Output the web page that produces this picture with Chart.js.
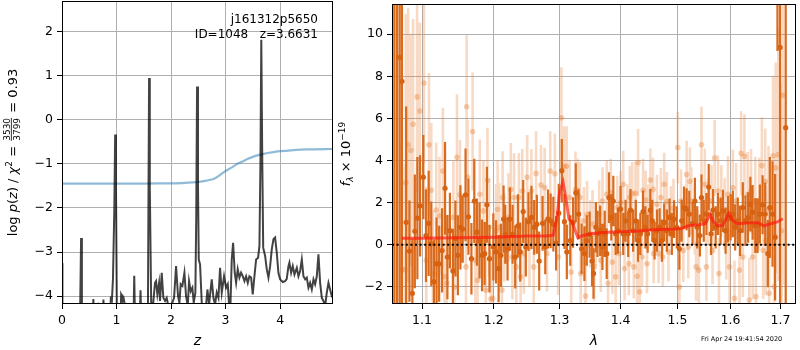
<!DOCTYPE html>
<html><head><meta charset="utf-8">
<script src="https://cdn.jsdelivr.net/npm/chart.js@4/dist/chart.umd.min.js"></script>
<style>
html,body{margin:0;padding:0;background:#fff;width:800px;height:350px;overflow:hidden}
#lw{position:absolute;left:0;top:0;width:334px;height:350px}
#rw{position:absolute;left:334px;top:0;width:466px;height:350px}
</style></head><body>
<div id="lw"><canvas id="left" width="334" height="350"></canvas></div>
<div id="rw"><canvas id="right" width="466" height="350"></canvas></div>
<script>
// ---------- left panel: redshift PDF ----------
const zGrid = [0.000,0.008,0.330,0.350,0.365,0.560,0.575,0.590,0.650,0.665,0.680,0.745,0.760,0.775,0.880,0.895,0.915,0.935,0.960,0.975,0.990,1.005,1.020,1.070,1.085,1.100,1.115,1.130,1.145,1.160,1.310,1.325,1.340,1.425,1.440,1.455,1.575,1.585,1.597,1.610,1.640,1.676,1.706,1.725,1.749,1.780,1.798,1.829,1.859,1.890,1.920,1.951,2.012,2.055,2.092,2.128,2.153,2.177,2.208,2.245,2.275,2.306,2.330,2.361,2.391,2.416,2.446,2.462,2.477,2.494,2.508,2.532,2.563,2.593,2.636,2.667,2.697,2.746,2.777,2.807,2.838,2.869,2.899,2.930,2.972,3.009,3.040,3.064,3.089,3.113,3.138,3.168,3.193,3.223,3.254,3.284,3.315,3.346,3.376,3.407,3.437,3.468,3.498,3.529,3.560,3.596,3.621,3.640,3.655,3.672,3.690,3.725,3.755,3.786,3.817,3.847,3.878,3.908,3.939,3.969,4.000,4.049,4.092,4.122,4.153,4.171,4.202,4.232,4.263,4.306,4.336,4.367,4.398,4.428,4.459,4.489,4.520,4.550,4.581,4.612,4.642,4.673,4.703,4.734,4.765,4.795,4.826,4.856,4.887,4.917,4.948,4.979];
const logPz = [-3.25,-4.6,-4.6,-2.68,-4.6,-4.6,-4.07,-4.6,-4.6,-4.15,-4.6,-4.6,-4.08,-4.6,-4.6,-4.06,-4.10,-3.60,-2.0,-0.33,-1.5,-4.2,-4.6,-4.6,-3.96,-4.0,-4.1,-4.05,-4.15,-4.6,-4.6,-3.54,-4.6,-4.6,-3.87,-4.6,-4.6,-2.0,0.95,-1.5,-4.6,-4.11,-3.70,-3.66,-3.96,-3.70,-4.11,-3.47,-4.04,-4.11,-4.04,-4.23,-4.19,-4.04,-3.32,-4.0,-4.15,-3.73,-3.77,-3.47,-4.0,-4.23,-3.66,-3.89,-3.81,-4.15,-3.92,-2.2,0.76,-1.5,-3.17,-3.28,-4.15,-4.3,-4.3,-3.85,-4.19,-3.62,-4.04,-4.19,-3.92,-4.04,-3.36,-3.92,-3.55,-3.81,-3.73,-4.19,-4.23,-3.17,-2.79,-3.47,-3.70,-3.39,-3.58,-3.47,-3.55,-3.66,-3.55,-3.70,-3.55,-3.58,-3.96,-3.55,-3.17,-3.13,-2.86,-0.9,1.82,-0.8,-2.9,-3.09,-3.39,-3.58,-3.32,-2.94,-2.71,-2.67,-3.02,-3.47,-3.62,-3.68,-3.66,-3.61,-3.32,-3.24,-3.47,-3.32,-3.51,-3.36,-3.55,-3.43,-3.17,-3.55,-3.62,-3.58,-3.81,-3.70,-3.85,-3.62,-3.73,-3.55,-3.05,-3.70,-4.04,-4.11,-4.23,-3.92,-3.70,-3.85,-4.0,-4.06];
const zCum = [0.0,0.5,1.0,1.5,2.0,2.2,2.4,2.6,2.8,2.9,3.0,3.1,3.2,3.3,3.4,3.5,3.6,3.7,3.8,3.9,4.0,4.2,4.5,4.97];
const cumVals = [-1.445,-1.445,-1.445,-1.445,-1.44,-1.435,-1.42,-1.39,-1.33,-1.25,-1.16,-1.09,-1.01,-0.95,-0.89,-0.84,-0.80,-0.77,-0.745,-0.725,-0.71,-0.69,-0.67,-0.66];
const zTicks = [0,1,2,3,4];
const logPTicks = [-4,-3,-2,-1,0,1,2];

// ---------- right panel: spectrum ----------
const darkWave = [1.0636,1.0670,1.0704,1.0735,1.0790,1.0833,1.0872,1.0904,1.0938,1.0974,1.1017,1.1053,1.1089,1.1124,1.1160,1.1196,1.1231,1.1271,1.1312,1.1344,1.1379,1.1420,1.1455,1.1489,1.1525,1.1557,1.1597,1.1638,1.1680,1.1721,1.1758,1.1796,1.1832,1.1869,1.1902,1.1939,1.1995,1.2034,1.2072,1.2106,1.2145,1.2170,1.2204,1.2239,1.2279,1.2318,1.2358,1.2393,1.2438,1.2478,1.2518,1.2564,1.2605,1.2646,1.2682,1.2734,1.2776,1.2818,1.2860,1.2902,1.2945,1.2987,1.3035,1.3077,1.3115,1.3170,1.3214,1.3258,1.3303,1.3353,1.3398,1.3437,1.3483,1.3523,1.3547,1.3586,1.3613,1.3657,1.3695,1.3733,1.3766,1.3804,1.3843,1.3877,1.3916,1.3955,1.4000,1.4045,1.4084,1.4130,1.4169,1.4215,1.4261,1.4301,1.4341,1.4387,1.4428,1.4468,1.4515,1.4550,1.4590,1.4632,1.4679,1.4720,1.4761,1.4809,1.4857,1.4899,1.4940,1.4989,1.5036,1.5078,1.5121,1.5169,1.5218,1.5279,1.5322,1.5365,1.5415,1.5445,1.5488,1.5538,1.5582,1.5626,1.5664,1.5714,1.5758,1.5808,1.5853,1.5904,1.5949,1.6000,1.6045,1.6090,1.6142,1.6187,1.6240,1.6292,1.6344,1.6390,1.6435,1.6488,1.6534,1.6580,1.6635,1.6688,1.6742,1.6782,1.6837,1.6890,1.6938,1.6992,1.7109];
const darkFlux = [13.0,12.0,8.9,7.76,1.07,-0.3,-2.3,0.64,1.27,1.85,3.21,0.44,1.02,0.05,-1.75,-0.9,-0.9,-0.27,2.68,-0.58,0.67,-1.24,0.3,-0.5,0.83,0.75,2.37,1.33,-0.66,2.08,0.6,0.2,-0.5,-0.42,1.9,-0.66,-0.1,-0.34,-1.13,-0.5,1.22,0.5,-0.2,1.22,0.5,-0.58,0.9,-0.34,1.58,-0.1,1.1,1.3,0.83,0.98,-0.77,1.02,-0.1,1.22,1.14,0.98,0.08,1.5,3.52,1.1,-0.34,0.2,1.06,2.47,1.46,-0.19,-0.42,0.2,0.48,-0.77,-1.36,0.83,0.52,0.67,-0.1,0.52,-0.42,2.24,1.3,2.08,0.52,0.67,1.69,0.52,1.14,0.52,1.65,0.67,1.14,0.2,0.52,1.58,0.83,0.52,1.65,1.14,0.2,0.67,0.83,0.2,1.06,0.67,1.3,0.52,1.22,0.83,-0.19,1.14,1.77,1.69,1.46,1.02,2.08,0.83,0.44,2.24,1.14,1.46,2.74,0.52,1.65,0.83,1.46,1.14,1.61,0.67,1.22,1.3,1.46,0.83,1.14,0.67,1.77,1.14,1.3,1.93,1.54,0.91,0.91,1.46,1.9,1.46,-0.42,1.77,1.46,0.36,13.0,9.37,5.56];
const darkErr = [20,20,18,14,5.5,2.4,2.6,2.7,2.9,2.4,2.0,2.2,2.5,2.0,2.0,2.2,1.8,2.0,2.2,2.0,1.8,2.0,1.8,1.9,2.0,1.6,2.2,1.8,1.7,2.0,1.6,1.8,1.7,1.5,1.8,1.6,1.6,1.5,1.6,1.5,1.6,1.4,1.5,1.5,1.4,1.5,1.5,1.4,1.5,1.4,1.4,1.5,1.3,1.4,1.4,1.3,1.3,1.4,1.3,1.3,1.3,1.4,1.5,1.3,1.3,1.2,1.2,1.4,1.2,1.2,1.3,1.2,1.1,1.2,1.2,1.2,1.1,1.2,1.1,1.1,1.2,1.2,1.1,1.2,1.0,1.1,1.1,1.0,1.0,1.1,1.0,1.0,1.0,1.0,1.0,1.0,1.0,0.9,1.0,1.0,0.9,1.0,0.9,1.0,0.9,1.0,0.9,1.0,0.9,1.0,1.0,1.0,1.0,1.0,1.1,1.0,1.1,1.0,1.0,1.1,1.0,1.0,1.1,1.0,1.0,1.0,1.0,1.1,1.0,1.1,1.1,1.1,1.1,1.1,1.1,1.2,1.2,1.2,1.2,1.3,1.3,1.3,1.3,1.4,1.4,1.5,1.6,2.4,2.5,3.0,3.8,16,15,15];

const lightWave = [1.0730,1.0773,1.0786,1.0816,1.0851,1.0881,1.0934,1.0969,1.1026,1.1057,1.1093,1.1124,1.1146,1.1191,1.1236,1.1282,1.1305,1.1336,1.1427,1.1441,1.1477,1.1519,1.1603,1.1612,1.1626,1.1697,1.1734,1.1767,1.1800,1.1852,1.1886,1.1910,1.1933,1.1960,1.1986,1.2034,1.2058,1.2082,1.2121,1.2131,1.2155,1.2218,1.2252,1.2276,1.2301,1.2335,1.2374,1.2399,1.2424,1.2448,1.2498,1.2533,1.2563,1.2598,1.2634,1.2710,1.2766,1.2802,1.2853,1.2926,1.2977,1.3029,1.3070,1.3112,1.3159,1.3185,1.3254,1.3285,1.3327,1.3338,1.3390,1.3416,1.3442,1.3495,1.3531,1.3559,1.3586,1.3641,1.3668,1.3696,1.3767,1.3789,1.3833,1.3861,1.3916,1.3944,1.3972,1.4000,1.4045,1.4068,1.4113,1.4141,1.4158,1.4198,1.4226,1.4255,1.4283,1.4301,1.4329,1.4370,1.4387,1.4433,1.4456,1.4474,1.4515,1.4562,1.4573,1.4632,1.4661,1.4702,1.4737,1.4761,1.4809,1.4838,1.4881,1.4929,1.5007,1.5036,1.5066,1.5108,1.5169,1.5199,1.5230,1.5255,1.5322,1.5344,1.5370,1.5395,1.5445,1.5508,1.5538,1.5570,1.5635,1.5654,1.5694,1.5758,1.5777,1.5822,1.5886,1.5917,1.5949,1.5981,1.6045,1.6077,1.6110,1.6175,1.6207,1.6240,1.6272,1.6338,1.6370,1.6403,1.6436,1.6488,1.6501,1.6567,1.6621,1.6647,1.6688,1.6701,1.6755,1.6768,1.6849,1.6869,1.6903,1.6957,1.7023,1.7051];
const lightFlux = [-1.18,-1.18,2.95,4.75,4.48,5.72,7.02,6.35,7.68,-0.74,4.75,2.59,-1.36,1.65,1.38,3.5,-1.52,-1.83,1.3,-2.0,4.15,2.37,-1.05,6.55,3.21,5.38,-0.74,-1.68,2.4,1.61,-2.15,3.06,0.83,-2.57,-2.54,0.67,1.69,0.83,-2.15,2.24,0.36,1.3,2.63,-0.58,2.24,-1.05,2.24,-1.52,2.55,-0.42,3.21,-0.1,2.55,-1.05,3.39,2.84,2.71,-0.42,3.5,3.37,-0.58,6.03,3.73,3.73,2.24,-1.29,2.63,2.4,2.24,-1.36,1.14,-2.43,1.43,0.52,0.99,-1.05,0.52,1.46,-0.74,2.08,2.4,-1.83,2.48,-0.82,-1.52,1.77,-0.42,2.0,2.87,-1.13,1.38,-0.9,2.24,2.43,-1.05,2.45,-1.49,3.9,-2.23,-0.58,2.59,2.12,-0.9,1.46,3.07,2.63,-0.42,1.93,-0.42,2.24,-0.58,2.87,2.05,-0.34,1.38,1.74,4.62,-2.0,2.08,-0.27,3.34,-0.1,3.02,2.08,1.14,-1.05,0.05,-1.2,4.75,2.87,-1.05,1.54,2.08,-0.27,4.12,2.55,-1.36,2.08,1.46,0.05,2.4,-1.05,2.71,-2.54,2.08,-1.2,4.34,-0.58,4.2,2.4,-2.62,2.55,-0.58,2.08,-2.46,1.93,3.76,-0.27,3.02,0.2,1.69,-2.3,4.23,-1.99,3.65,4.28,0.67,7.1];
const lightErr = [6.0,5.0,8.0,6.5,5.5,5.0,4.5,4.2,3.8,3.5,3.4,3.2,3.0,3.2,2.8,3.0,2.9,2.8,2.7,2.6,3.0,2.6,2.6,3.4,2.7,2.8,2.5,2.5,2.6,2.4,2.4,2.5,2.3,2.3,2.3,2.2,2.3,2.1,2.2,2.2,2.1,2.1,2.2,2.0,2.1,2.0,2.1,2.0,2.0,1.9,2.0,1.9,2.0,1.9,2.0,1.9,1.9,1.8,1.9,1.9,1.8,2.4,1.9,1.9,1.8,1.7,1.8,1.7,1.7,1.7,1.6,1.6,1.6,1.6,1.6,1.6,1.5,1.6,1.5,1.6,1.6,1.5,1.6,1.5,1.5,1.5,1.5,1.5,1.6,1.5,1.5,1.5,1.5,1.5,1.5,1.5,1.5,1.6,1.5,1.4,1.5,1.4,1.4,1.4,1.5,1.5,1.4,1.4,1.4,1.4,1.4,1.5,1.4,1.4,1.4,1.4,1.7,1.5,1.5,1.5,1.6,1.5,1.6,1.6,1.6,1.6,1.6,1.6,1.8,1.7,1.6,1.6,1.7,1.6,1.8,1.7,1.7,1.7,1.7,1.7,1.8,1.8,1.8,1.8,1.8,1.8,2.0,1.9,2.0,2.0,2.0,2.0,2.0,2.1,2.1,2.2,2.3,2.3,2.5,2.6,3.0,3.0,3.8,4.0,5.0,6.0,7.0,9.0];

const modelWave = [1.073,1.10,1.15,1.20,1.25,1.28,1.290,1.296,1.300,1.3055,1.310,1.315,1.3197,1.3293,1.335,1.35,1.37,1.40,1.43,1.45,1.48,1.50,1.51,1.52,1.54,1.552,1.5607,1.567,1.575,1.585,1.5966,1.603,1.612,1.625,1.64,1.655,1.6655,1.68,1.695,1.7046];
const modelFlux = [0.31,0.31,0.33,0.36,0.42,0.42,0.45,1.3,2.5,2.98,2.2,1.2,1.1,0.33,0.42,0.52,0.58,0.62,0.66,0.70,0.74,0.75,0.8,0.9,0.95,1.0,1.43,1.1,0.9,0.92,1.5,1.2,1.0,1.02,1.05,1.05,0.9,1.0,1.1,1.25];
const waveTicks = [1.1,1.2,1.3,1.4,1.5,1.6,1.7];
const fluxTicks = [-2,0,2,4,6,8,10];

// ---------- helpers ----------
const FAM = "'DejaVu Sans', sans-serif";
const minus = v => String(v).replace('-', '\u2212');
function pts(xs, ys){ return xs.map((x,i)=>({x:x, y:ys[i]})); }
function errSegments(xs, ys, es){
  const out = [];
  xs.forEach((x,i)=>{ out.push({x:x,y:ys[i]-es[i]}); out.push({x:x,y:ys[i]+es[i]}); out.push({x:x,y:null}); });
  return out;
}
function richRotated(ctx, cx, cy, pieces){
  ctx.save();
  ctx.translate(cx, cy); ctx.rotate(-Math.PI/2);
  ctx.fillStyle = '#000'; ctx.textBaseline = 'alphabetic';
  let total = 0;
  pieces.forEach(p=>{
    if (p.frac){ ctx.font = p.font; p.w = Math.max(ctx.measureText(p.frac[0]).width, ctx.measureText(p.frac[1]).width)+2; }
    else { ctx.font = p.font; p.w = ctx.measureText(p.t).width; }
    total += p.w;
  });
  let x = -total/2;
  const base = 4.5;
  pieces.forEach(p=>{
    ctx.font = p.font;
    if (p.frac){
      ctx.textAlign = 'center';
      ctx.fillText(p.frac[0], x+p.w/2, base-7);
      ctx.fillText(p.frac[1], x+p.w/2, base+3.5);
      ctx.fillRect(x+1, base-5.6, p.w-2, 0.8);
      ctx.textAlign = 'left';
    } else {
      ctx.textAlign = 'left';
      ctx.fillText(p.t, x, base + (p.dy||0));
    }
    x += p.w;
  });
  ctx.restore();
}
function frame(chart){
  const a = chart.chartArea, c = chart.ctx;
  c.save(); c.strokeStyle = '#000'; c.lineWidth = 1;
  c.strokeRect(Math.round(a.left)+0.5, Math.round(a.top)+0.5, Math.round(a.right-a.left)-1, Math.round(a.bottom-a.top)-1);
  c.restore();
}
function setTicks(vals){ return s => { s.ticks = vals.map(v=>({value:v})); }; }
function fixY(w){ return s => { s.width = w; s.paddingTop = 0; s.paddingBottom = 0; }; }
function fixX(h){ return s => { s.height = h; s.paddingLeft = 0; s.paddingRight = 0; }; }

const tickFont = {family: FAM, size: 12.5};
const gridOpts = {color:'#b0b0b0', lineWidth:1, tickColor:'#000', tickLength:5, tickWidth:1};

// ---------- left chart ----------
new Chart(document.getElementById('left'), {
  type: 'line',
  data: { datasets: [
    { data: pts(zGrid, logPz), borderColor: 'rgba(0,0,0,0.74)', borderWidth: 2, pointRadius: 0, tension: 0, order: 0 },
    { data: pts(zCum, cumVals), borderColor: 'rgba(31,119,180,0.5)', borderWidth: 2.2, pointRadius: 0, tension: 0.3, order: 1 }
  ]},
  options: {
    responsive: false, animation: false, devicePixelRatio: 1,
    layout: { padding: {top: 1, right: 1, left: 0, bottom: 0} },
    plugins: { legend: {display:false}, tooltip: {enabled:false} },
    scales: {
      x: { type: 'linear', min: 0, max: 4.97, afterBuildTicks: setTicks(zTicks), afterFit: fixX(46),
           grid: gridOpts, border: {display:false},
           ticks: { font: tickFont, color: '#000', padding: 4, maxRotation: 0, callback: v => minus(v) },
           title: { display: true, text: 'z', color: '#000', font: {family: FAM, size: 14, style: 'italic'}, padding: {top:0, bottom:0} } },
      y: { type: 'linear', min: -4.18, max: 2.70, afterBuildTicks: setTicks(logPTicks), afterFit: fixY(62),
           grid: gridOpts, border: {display:false},
           ticks: { font: tickFont, color: '#000', padding: 4, callback: v => minus(v) } }
    }
  },
  plugins: [{ id: 'leftDeco', afterDraw(chart){
    frame(chart);
    const c = chart.ctx, a = chart.chartArea;
    c.save(); c.fillStyle = '#000'; c.font = '12px ' + FAM; c.textAlign = 'right'; c.textBaseline = 'middle';
    c.fillText('j161312p5650', a.right - 15, 20);
    c.fillText('ID=1048   z=3.6631', a.right - 15, 35);
    c.restore();
    const f = '13px ' + FAM, fi = 'italic 13px ' + FAM, fs = '9px ' + FAM;
    richRotated(c, 12, (a.top + a.bottom)/2, [
      {t:'log ', font:f}, {t:'p', font:fi}, {t:'(', font:f}, {t:'z', font:fi}, {t:') / ', font:f},
      {t:'\u03C7', font:fi}, {t:'2', font:fs, dy:-5}, {t:' = ', font:f}, {frac:['3530','3799'], font:fs}, {t:' = 0.93', font:f}
    ]);
  }}]
});

// ---------- right chart ----------
new Chart(document.getElementById('right'), {
  type: 'line',
  data: { datasets: [
    { data: [{x:1.0606,y:0},{x:1.7324,y:0}], borderColor: '#000', borderWidth: 2, borderDash: [2,2.6], pointRadius: 0, order: 0 },
    { data: pts(modelWave, modelFlux), borderColor: 'rgba(255,20,10,0.65)', borderWidth: 3, pointRadius: 0, tension: 0, order: 1 },
    { data: pts(darkWave, darkFlux), showLine: false, pointRadius: 2.6, pointBackgroundColor: 'rgb(214,98,18)', pointBorderWidth: 0, order: 2 },
    { data: errSegments(darkWave, darkFlux, darkErr), borderColor: 'rgb(218,106,28)', borderWidth: 2.2, pointRadius: 0, spanGaps: false, order: 3 },
    { data: pts(lightWave, lightFlux), showLine: false, pointRadius: 2.8, pointBackgroundColor: 'rgba(230,120,40,0.35)', pointBorderWidth: 0, order: 4 },
    { data: errSegments(lightWave, lightFlux, lightErr), borderColor: 'rgba(232,130,60,0.3)', borderWidth: 2.6, pointRadius: 0, spanGaps: false, order: 5 }
  ]},
  options: {
    responsive: false, animation: false, devicePixelRatio: 1,
    layout: { padding: {top: 1, right: 1, left: 0, bottom: 0} },
    plugins: { legend: {display:false}, tooltip: {enabled:false} },
    scales: {
      x: { type: 'logarithmic', min: 1.0606, max: 1.7324, afterBuildTicks: setTicks(waveTicks), afterFit: fixX(46),
           grid: gridOpts, border: {display:false},
           ticks: { font: tickFont, color: '#000', padding: 4, maxRotation: 0, autoSkip: false, callback: v => Number(v).toFixed(1) },
           title: { display: true, text: '\u03BB', color: '#000', font: {family: FAM, size: 14, style: 'italic'}, padding: {top:0, bottom:0} } },
      y: { type: 'linear', min: -2.81, max: 11.43, afterBuildTicks: setTicks(fluxTicks), afterFit: fixY(58),
           grid: gridOpts, border: {display:false},
           ticks: { font: tickFont, color: '#000', padding: 4, callback: v => minus(v) } }
    }
  },
  plugins: [{ id: 'rightDeco', afterDraw(chart){
    frame(chart);
    const c = chart.ctx, a = chart.chartArea;
    const f = '13px ' + FAM, fi = 'italic 13px ' + FAM, fs = '9px ' + FAM;
    richRotated(c, 11, (a.top + a.bottom)/2, [
      {t:'f', font:fi}, {t:'\u03BB', font:'italic 9px ' + FAM, dy:3}, {t:' \u00D7 10', font:f}, {t:'\u221219', font:fs, dy:-5}
    ]);
    c.save(); c.fillStyle = '#000'; c.font = '6.5px ' + FAM; c.textAlign = 'left'; c.textBaseline = 'middle';
    c.fillText('Fri Apr 24 19:41:54 2020', 367, 339.5);
    c.restore();
  }}]
});
</script>
</body></html>
